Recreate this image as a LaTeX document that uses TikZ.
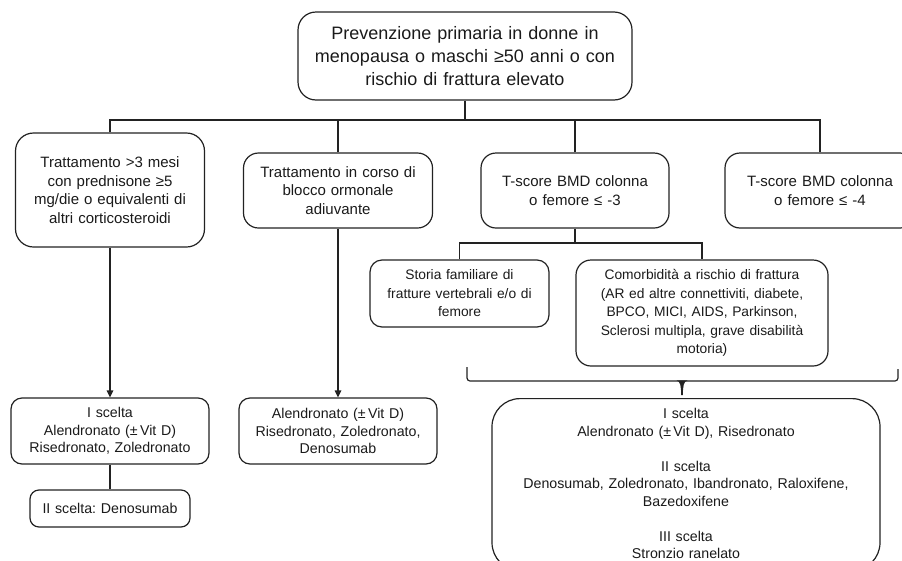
\documentclass[tikz,border=0pt]{standalone}
\usepackage{fontspec}
\setmainfont{Liberation Sans}
\usetikzlibrary{arrows.meta}
\definecolor{linec}{HTML}{222222}
\definecolor{txtc}{HTML}{1A1A1A}
\frenchspacing
\tikzset{
  box/.style={draw=linec, line width=1.2pt, align=center, inner sep=0pt, text=txtc},
  fxv/.style={font=\fontsize{18}{23}\selectfont},
  fxl/.style={font=\fontsize{15}{18.5}\selectfont},
  fxm/.style={font=\fontsize{13.8}{18.5}\selectfont},
  fxs/.style={font=\fontsize{14.2}{17.5}\selectfont},
  conn/.style={draw=linec, line width=1.2pt},
  arr/.style={conn, -{Triangle[length=7pt,width=6.5pt]}},
}
\begin{document}
\begin{tikzpicture}[x=1pt,y=-1pt]
\useasboundingbox (0,0) rectangle (902,560);
% top
\node[box, fxv, rounded corners=18pt, minimum width=334pt, minimum height=88pt, text width=320pt] (top) at (465,56)
  {Prevenzione primaria in donne in\\menopausa o maschi ≥50 anni o con\\rischio di frattura elevato};
% level 2
\node[box, fxl, rounded corners=18pt, minimum width=189pt, minimum height=114pt, text width=180pt] (t1) at (110,190)
  {Trattamento >3 mesi\\con prednisone ≥5\\mg/die o equivalenti di\\altri corticosteroidi};
\node[box, fxl, rounded corners=15pt, minimum width=189pt, minimum height=75pt, text width=180pt] (t2) at (338,190.5)
  {Trattamento in corso di\\blocco ormonale\\adiuvante};
\node[box, fxl, rounded corners=15pt, minimum width=188pt, minimum height=75pt, text width=180pt] (t3) at (575,190.5)
  {T-score BMD colonna\\o femore ≤ -3};
\node[box, fxl, rounded corners=15pt, minimum width=190pt, minimum height=75pt, text width=180pt] (t4) at (820,190.5)
  {T-score BMD colonna\\o femore ≤ -4};
% level 3
\node[box, fxm, rounded corners=12pt, minimum width=179pt, minimum height=67pt, text width=172pt] (s1) at (459.5,293.5)
  {Storia familiare di\\fratture vertebrali e/o di\\femore};
\node[box, fxm, rounded corners=15pt, minimum width=252pt, minimum height=106pt, text width=245pt] (s2) at (702,313)
  {Comorbidità a rischio di frattura\\(AR ed altre connettiviti, diabete,\\BPCO, MICI, AIDS, Parkinson,\\Sclerosi multipla, grave disabilità\\motoria)};
% bottom
\node[box, fxs, rounded corners=11pt, minimum width=198pt, minimum height=66pt, text width=192pt] (b1) at (110,431)
  {I scelta\\Alendronato (±\,Vit D)\\Risedronato, Zoledronato};
\node[box, fxs, rounded corners=9pt, minimum width=160pt, minimum height=37pt, text width=155pt] (b1b) at (110,508.5)
  {II scelta: Denosumab};
\node[box, fxs, rounded corners=11pt, minimum width=198pt, minimum height=66pt, text width=192pt] (b2) at (338,431)
  {Alendronato (±\,Vit D)\\Risedronato, Zoledronato,\\Denosumab};
\node[box, fxs, rounded corners=28pt, minimum width=388pt, minimum height=172pt, text width=380pt, anchor=north] (b3) at (686,398)
  {\\[-9pt]I scelta\\Alendronato (±\,Vit D), Risedronato\\[17.5pt]II scelta\\Denosumab, Zoledronato, Ibandronato, Raloxifene,\\Bazedoxifene\\[17.5pt]III scelta\\Stronzio ranelato\\[10pt]};
% connectors
\coordinate (j1) at (465,120);
\draw[conn] (top.south) -- (j1);
\draw[conn] (t1.north) -- (t1.north |- j1) -- (t4.north |- j1) -- (t4.north);
\draw[conn] (t2.north) -- (t2.north |- j1);
\draw[conn] (t3.north) -- (t3.north |- j1);
\draw[arr] (t1.south) -- (b1.north);
\draw[arr] (t2.south) -- (b2.north);
\draw[conn] (b1.south) -- (b1b.north);
\coordinate (j2) at (575,243);
\draw[conn] (t3.south) -- (j2);
\draw[conn] (s1.north) -- (s1.north |- j2) -- (s2.north |- j2) -- (s2.north);
% brace
\coordinate (brL) at (467,367);
\coordinate (brR) at (898,369);
\draw[conn, rounded corners=3pt] (brL) -- (467,381) -- (898,381) -- (brR);
\fill[linec] (676.5,380.4) .. controls (680.5,381.5) and (681,386) .. (681.2,395) -- (682.8,395) .. controls (683,386) and (683.5,381.5) .. (687.5,380.4) -- cycle;
\end{tikzpicture}
\end{document}
